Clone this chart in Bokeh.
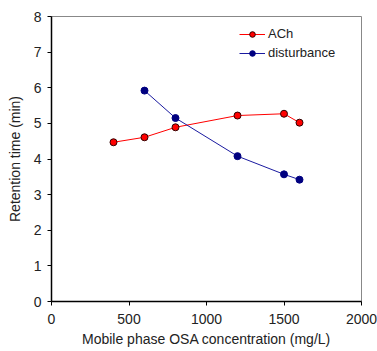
from bokeh.plotting import figure
from bokeh.models import Range1d, Legend, LegendItem, FixedTicker
from bokeh.embed import file_html
from bokeh.resources import INLINE

ach_x = [400, 600, 800, 1200, 1500, 1600]
ach_y = [4.47, 4.61, 4.89, 5.22, 5.27, 5.02]
dist_x = [600, 800, 1200, 1500, 1600]
dist_y = [5.92, 5.15, 4.08, 3.57, 3.42]
x_ticks = [0, 500, 1000, 1500, 2000]
y_ticks = [0, 1, 2, 3, 4, 5, 6, 7, 8]

FONT = "Liberation Sans"

p = figure(width=377, height=351, output_backend="svg", toolbar_location=None,
           x_range=Range1d(0, 2000), y_range=Range1d(0, 8),
           min_border_left=51, min_border_right=16, min_border_top=16, min_border_bottom=50)
p.background_fill_color = "white"
p.border_fill_color = "white"
p.outline_line_color = "#888888"
p.xgrid.grid_line_color = None
p.ygrid.grid_line_color = None

for ax in (p.xaxis[0], p.yaxis[0]):
    ax.axis_line_color = "black"
    ax.axis_line_width = 1.5
    ax.major_tick_line_color = "black"
    ax.major_tick_in = 0
    ax.major_tick_out = 4
    ax.minor_tick_line_color = None
    ax.major_label_text_font = FONT
    ax.major_label_text_font_size = "14px"
    ax.major_label_text_color = "#222222"
    ax.axis_label_text_font = FONT
    ax.axis_label_text_font_size = "14px"
    ax.axis_label_text_font_style = "normal"
    ax.axis_label_text_color = "#222222"

p.xaxis[0].ticker = FixedTicker(ticks=x_ticks)
p.yaxis[0].ticker = FixedTicker(ticks=y_ticks)
p.xaxis[0].axis_label = "Mobile phase OSA concentration (mg/L)"
p.yaxis[0].axis_label = "Retention time (min)"
p.xaxis[0].major_label_standoff = 8
p.xaxis[0].axis_label_standoff = 4
p.yaxis[0].major_label_standoff = 6
p.yaxis[0].axis_label_standoff = 8

l1 = p.line(ach_x, ach_y, line_color="red", line_width=1)
s1 = p.scatter(ach_x, ach_y, size=7, fill_color="red", line_color="#300000", line_width=1)
l2 = p.line(dist_x, dist_y, line_color="#1a1aa0", line_width=1)
s2 = p.scatter(dist_x, dist_y, size=7, fill_color="#000080", line_color="#000080", line_width=1)

legend = Legend(items=[LegendItem(label="ACh", renderers=[l1, s1]),
                       LegendItem(label="disturbance", renderers=[l2, s2])],
                location=(188, 241))
legend.border_line_color = None
legend.background_fill_alpha = 0
legend.label_text_font = FONT
legend.label_text_font_size = "13px"
legend.label_text_color = "#222222"
legend.glyph_width = 26
legend.glyph_height = 14
legend.label_height = 14
legend.label_standoff = 3
legend.spacing = 4
legend.margin = 0
legend.padding = 3
p.add_layout(legend)

open("out.html", "w").write(file_html(p, INLINE))
